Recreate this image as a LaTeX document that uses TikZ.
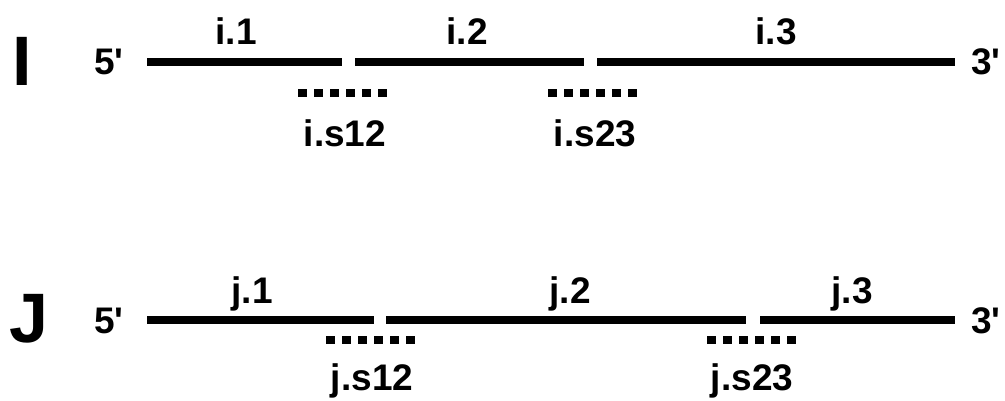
\documentclass[tikz,border=0pt]{standalone}
\usepackage{fontspec}
\setmainfont{Liberation Sans}
\begin{document}
\begin{tikzpicture}[x=1pt,y=-1pt,
  seg/.style={line width=8pt},
  gap/.style={line width=8pt,dash pattern=on 9pt off 7pt},
  lbl/.style={inner sep=0pt,anchor=base,font=\bfseries\fontsize{37}{40}\selectfont},
  endlbl/.style={inner sep=0pt,anchor=base,font=\bfseries\fontsize{37}{40}\selectfont},
  big/.style={inner sep=0pt,anchor=base,font=\bfseries\fontsize{70}{72}\selectfont}]
\useasboundingbox (0,0) rectangle (1005,401);
% row I
\node[big] (I) at (22,86) {I};
\node[endlbl] (i5) at (109,75) {5\textquotesingle};
\node[endlbl] (i3) at (986,75) {3\textquotesingle};
\coordinate (a1) at (147,62); \coordinate (b1) at (342,62);
\coordinate (a2) at (355,62); \coordinate (b2) at (584,62);
\coordinate (a3) at (597,62); \coordinate (b3) at (955,62);
\draw[seg] (a1) -- (b1);
\draw[seg] (a2) -- (b2);
\draw[seg] (a3) -- (b3);
\node[lbl] (li1) at (236,45) {i.1};
\node[lbl] (li2) at (467,45) {i.2};
\node[lbl] (li3) at (776,45) {i.3};
\coordinate (s12a) at (298,93); \coordinate (s12b) at (390,93);
\coordinate (s23a) at (548,93); \coordinate (s23b) at (640,93);
\draw[gap] (s12a) -- (s12b);
\draw[gap] (s23a) -- (s23b);
\node[lbl] (lis12) at (345,147) {i.s12};
\node[lbl] (lis23) at (595,147) {i.s23};
% row J
\node[big] (J) at (29,342) {J};
\node[endlbl] (j5) at (109,333) {5\textquotesingle};
\node[endlbl] (j3) at (986,333) {3\textquotesingle};
\coordinate (c1) at (147,320); \coordinate (d1) at (374,320);
\coordinate (c2) at (386,320); \coordinate (d2) at (746,320);
\coordinate (c3) at (760,320); \coordinate (d3) at (955,320);
\draw[seg] (c1) -- (d1);
\draw[seg] (c2) -- (d2);
\draw[seg] (c3) -- (d3);
\node[lbl] (lj1) at (252,303) {j.1};
\node[lbl] (lj2) at (570,303) {j.2};
\node[lbl] (lj3) at (852,303) {j.3};
\coordinate (t12a) at (326,340); \coordinate (t12b) at (418,340);
\coordinate (t23a) at (707,340); \coordinate (t23b) at (799,340);
\draw[gap] (t12a) -- (t12b);
\draw[gap] (t23a) -- (t23b);
\node[lbl] (ljs12) at (372,390) {j.s12};
\node[lbl] (ljs23) at (752,390) {j.s23};
\end{tikzpicture}
\end{document}
